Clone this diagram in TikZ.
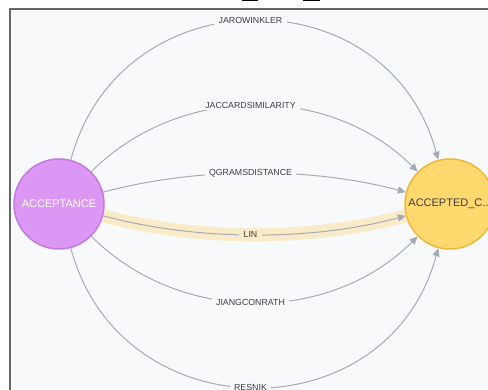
\documentclass[tikz,border=0pt]{standalone}
\usepackage{fontspec}
\setmainfont{Liberation Sans}
\usetikzlibrary{arrows.meta}
\definecolor{canvas}{HTML}{F8F9FB}
\definecolor{framegray}{HTML}{666666}
\definecolor{edgegray}{HTML}{A5ABB6}
\definecolor{labelgray}{HTML}{3A3D45}
\definecolor{violetfill}{HTML}{DC97F5}
\definecolor{violetline}{HTML}{C27ADD}
\definecolor{amberfill}{HTML}{FFD86E}
\definecolor{amberline}{HTML}{EDB73A}
\definecolor{glow}{HTML}{FAEBC8}
\pgfdeclarelayer{paper}
\pgfdeclarelayer{under}
\pgfsetlayers{paper,under,main}
\begin{document}
\begin{tikzpicture}[x=1pt,y=1pt,
  relnode/.style={circle, minimum size=90pt, inner sep=0pt, line width=1.5pt,
    font=\fontsize{11}{13}\selectfont},
  rel/.style={draw=edgegray, line width=1pt, -{Triangle[length=8pt,width=7pt]}},
  rellabel/.style={fill=canvas, text=labelgray, inner xsep=4.5pt, inner ysep=1.5pt,
    font=\fontsize{8.8}{10}\selectfont, xshift=-4pt}
]
\useasboundingbox (0,0) rectangle (488,390);
\clip (0,0) rectangle (488,390);

% paper, panel frame and the two marks along the top edge
\begin{pgfonlayer}{paper}
  \fill[white] (0,0) rectangle (488,390);
  \fill[canvas] (10,0) rectangle (488,381);
  \draw[framegray, line width=1.5pt] (10,0) -- (10,381) -- (488,381);
  \fill[black] (242,388.5) rectangle (258,390);
  \fill[black] (303,388.5) rectangle (320,390);
\end{pgfonlayer}

% the two nodes
\node[relnode, fill=violetfill, draw=violetline, text=white] (acc) at (59,186) {ACCEPTANCE};
\node[relnode, fill=amberfill, draw=amberline, text=labelgray] (acd) at (450,186) {ACCEPTED\_C...};

% highlight under the selected relationship
\begin{pgfonlayer}{under}
  \draw[glow, line width=13pt] (acc.-15) to[out=-15, in=-165, looseness=0.83] (acd.-165);
\end{pgfonlayer}

% relationships
\draw[rel] (acc.75) to[out=75, in=105, looseness=1.34] node[rellabel]{JAROWINKLER} (acd.105);
\draw[rel] (acc.45) to[out=45, in=135, looseness=0.98] node[rellabel]{JACCARDSIMILARITY} (acd.135);
\draw[rel] (acc.15) to[out=15, in=165, looseness=0.83] node[rellabel]{QGRAMSDISTANCE} (acd.165);
\draw[rel] (acc.-15) to[out=-15, in=-165, looseness=0.83] node[rellabel, fill=glow]{LIN} (acd.-165);
\draw[rel] (acc.-45) to[out=-45, in=-135, looseness=0.98] node[rellabel]{JIANGCONRATH} (acd.-135);
\draw[rel] (acc.-75) to[out=-75, in=-105, looseness=1.34] node[rellabel]{RESNIK} (acd.-105);
\end{tikzpicture}
\end{document}
